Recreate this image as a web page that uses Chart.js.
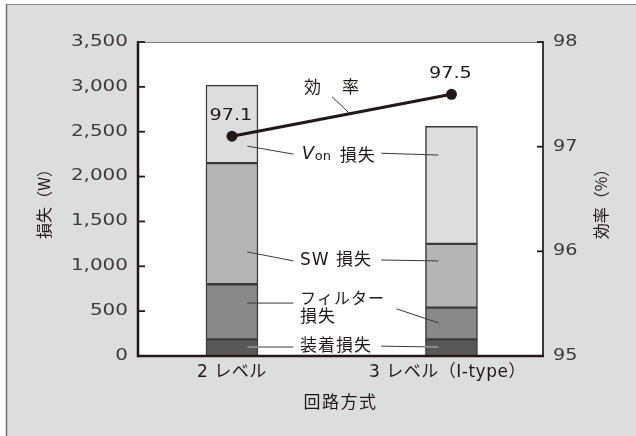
<!DOCTYPE html>
<html>
<head>
<meta charset="utf-8">
<script src="https://cdn.jsdelivr.net/npm/chart.js@4/dist/chart.umd.min.js"></script>
<style>
  html, body { margin: 0; padding: 0; background: #ffffff; }
  #wrap { width: 636px; height: 436px; }
</style>
</head>
<body>
<div id="wrap"><canvas id="c" width="636" height="436"></canvas></div>
<script>
// 回路方式ごとの損失内訳（W）と効率（%）
const categories = ['2 レベル', '3 レベル（I-type）'];
const mountLoss  = [185, 185];    // 装着損失
const filterLoss = [615, 355];    // フィルター損失
const swLoss     = [1350, 710];   // SW 損失
const vonLoss    = [870, 1310];   // Von 損失
const efficiency = [97.1, 97.5];  // 効率

const lossTicks = [0, 500, 1000, 1500, 2000, 2500, 3000, 3500];
const effTicks  = [95, 96, 97, 98];

const INK = '#231815';
const BG = '#dcdddd';
const JP = '"Noto Sans CJK JP", sans-serif';
const NUM = '"DejaVu Sans", "Noto Sans CJK JP", sans-serif';

// 注記（カテゴリ位置 x・損失軸 y で指定）
const notes = [
  { text: '効　率', x: 1.458, y: 3004, align: 'center', font: '17px ' + JP, spacing: 2 },
  { text: 'SW 損失', x: 1.31, y: 1059, align: 'left', font: '17px ' + NUM, spacing: 1 },
  { text: 'フィルター', x: 1.31, y: 646, align: 'left', font: '16px ' + JP, spacing: 1 },
  { text: '損失', x: 1.31, y: 446, align: 'left', font: '17px ' + JP, spacing: 1 },
  { text: '装着損失', x: 1.31, y: 123, align: 'left', font: '17px ' + JP, spacing: 1 }
];
const leaders = [
  [1.07, 2340, 1.28, 2250], [1.68, 2260, 1.94, 2240],   // Von
  [1.07, 1160, 1.28, 1060], [1.68, 1070, 1.94, 1060],   // SW
  [1.07, 590, 1.28, 590],   [1.75, 525, 1.94, 370],     // フィルター
  [1.07, 100, 1.28, 100],   [1.68, 110, 1.94, 100],     // 装着
  [1.456, 2890, 1.533, 2710]                            // 効率
];

function drawText(ctx, s, x, y, o) {
  ctx.save();
  ctx.font = o.font;
  ctx.fillStyle = o.color || INK;
  ctx.textBaseline = 'middle';
  ctx.textAlign = 'left';
  ctx.letterSpacing = (o.spacing || 0) + 'px';
  const sx = o.sx || 1;
  const w = ctx.measureText(s).width * sx;
  const align = o.align || 'center';
  const x0 = align === 'left' ? x : align === 'right' ? x - w : x - w / 2;
  ctx.translate(x0, y);
  ctx.scale(sx, 1);
  ctx.fillText(s, 0, 0);
  ctx.restore();
}

function drawVertical(ctx, s, x, y, font) {
  ctx.save();
  ctx.translate(x, y);
  ctx.rotate(-Math.PI / 2);
  ctx.font = font;
  ctx.fillStyle = INK;
  ctx.textAlign = 'center';
  ctx.textBaseline = 'middle';
  ctx.fillText(s, 0, 0);
  ctx.restore();
}

function line(ctx, x1, y1, x2, y2, color, w) {
  ctx.save();
  ctx.strokeStyle = color;
  ctx.lineWidth = w;
  ctx.beginPath();
  ctx.moveTo(x1, y1);
  ctx.lineTo(x2, y2);
  ctx.stroke();
  ctx.restore();
}

const framePlugin = {
  id: 'frame',
  beforeDraw(chart) {
    const { ctx, chartArea: a, width, height } = chart;
    ctx.save();
    ctx.fillStyle = '#ffffff';
    ctx.fillRect(0, 0, width, height);
    ctx.fillStyle = BG;
    ctx.fillRect(6, 4, width - 6, height - 4);
    line(ctx, 6, 4.5, width, 4.5, '#8a8a8a', 1.2);
    line(ctx, 6.5, 4, 6.5, height, '#6e6e6e', 1.5);
    ctx.fillStyle = '#ffffff';
    ctx.fillRect(a.left, a.top, a.right - a.left, a.bottom - a.top);
    ctx.restore();
  },
  afterDatasetsDraw(chart) {
    const { ctx, chartArea: a, scales } = chart;
    const xs = scales.x, ys = scales.y, y2 = scales.y2;

    // 引出線
    leaders.forEach(([x1, v1, x2, v2]) => {
      line(ctx, xs.getPixelForValue(x1), ys.getPixelForValue(v1),
                xs.getPixelForValue(x2), ys.getPixelForValue(v2), '#3e3a39', 1);
    });
    // 装着損失の帯の中は明るい線
    [[1.07, 100, 1.12, 100], [1.88, 102, 1.94, 100]].forEach(([x1, v1, x2, v2]) => {
      line(ctx, xs.getPixelForValue(x1), ys.getPixelForValue(v1),
                xs.getPixelForValue(x2) , ys.getPixelForValue(v2), '#c9caca', 1);
    });

    // 軸線
    line(ctx, a.left, a.top + 0.5, a.right, a.top + 0.5, '#7d7d7d', 1.2);
    line(ctx, a.right, a.top - 1, a.right, a.bottom, INK, 1.7);
    line(ctx, a.left, a.top - 1, a.left, a.bottom + 1.2, INK, 2.5);
    line(ctx, a.left - 1, a.bottom, a.right + 1, a.bottom, INK, 2.5);

    // 目盛（内向き）と目盛ラベル
    lossTicks.forEach(v => {
      const py = ys.getPixelForValue(v);
      line(ctx, a.left, py, a.left + 7, py, INK, 1.8);
      drawText(ctx, v.toLocaleString('en-US'), a.left - 10, py,
               { font: '15px ' + NUM, align: 'right', sx: 1.33, color: '#3e3a39' });
    });
    effTicks.forEach(v => {
      const py = y2.getPixelForValue(v);
      line(ctx, a.right - 6, py, a.right, py, INK, 1.8);
      drawText(ctx, String(v), a.right + 10, py,
               { font: '16px ' + NUM, align: 'left', sx: 1.2, color: '#3e3a39' });
    });

    // カテゴリラベル
    categories.forEach((c, i) => {
      const px = xs.getPixelForValue(i + 1) - (i === 1 ? 4 : 0);
      drawText(ctx, c, px, a.bottom + 17, { font: '17px ' + NUM, spacing: 0.5 });
    });

    // 軸タイトル
    drawText(ctx, '回路方式', (a.left + a.right) / 2, a.bottom + 46,
             { font: '17px ' + JP, spacing: 1.5 });
    drawVertical(ctx, '損失（W）', 44, 200, '16px ' + JP);
    drawVertical(ctx, '効率（%）', 601, 200, '16px ' + JP);

    // 注記
    notes.forEach(n => {
      drawText(ctx, n.text, xs.getPixelForValue(n.x), ys.getPixelForValue(n.y), n);
    });
    // Von 損失（V はイタリック、on は下付き）
    const vx = xs.getPixelForValue(1.318), vy = ys.getPixelForValue(2250);
    drawText(ctx, 'V', vx, vy, { font: 'italic 18px ' + NUM, align: 'left' });
    drawText(ctx, 'on', vx + 13, vy + 2, { font: '13px ' + NUM, align: 'left' });
    drawText(ctx, '損失', vx + 38, vy, { font: '17px ' + JP, align: 'left', spacing: 1 });

    // 効率の値ラベル
    const meta = chart.getDatasetMeta(4);
    meta.data.forEach((pt, i) => {
      drawText(ctx, efficiency[i].toFixed(1), pt.x - 1, pt.y - 20,
               { font: '16px ' + NUM, sx: 1.2 });
    });
  }
};

const xy = arr => arr.map((v, i) => ({ x: i + 1, y: v }));
const barStyle = { borderColor: '#3e3a39', borderWidth: 1.5, borderSkipped: false,
                   barThickness: 52, yAxisID: 'y', order: 1 };

new Chart(document.getElementById('c'), {
  type: 'bar',
  data: {
    datasets: [
      { label: '装着損失', data: xy(mountLoss), backgroundColor: '#595757', ...barStyle },
      { label: 'フィルター損失', data: xy(filterLoss), backgroundColor: '#898989', ...barStyle },
      { label: 'SW 損失', data: xy(swLoss), backgroundColor: '#b5b5b6', ...barStyle },
      { label: 'Von 損失', data: xy(vonLoss), backgroundColor: '#dcdddd', ...barStyle },
      { type: 'line', label: '効率', data: xy(efficiency), yAxisID: 'y2', order: 0,
        borderColor: INK, borderWidth: 3, pointRadius: 5.5, pointHoverRadius: 5.5,
        pointBackgroundColor: INK, pointBorderWidth: 0, tension: 0 }
    ]
  },
  options: {
    responsive: false,
    animation: false,
    events: [],
    layout: { padding: { left: 138, top: 42, right: 93, bottom: 80 } },
    plugins: { legend: { display: false }, tooltip: { enabled: false } },
    scales: {
      x: { type: 'linear', display: false, stacked: true, offset: false, min: 0.572, max: 2.417 },
      y: { display: false, stacked: true, min: 0, max: 3500 },
      y2: { display: false, position: 'right', min: 95, max: 98 }
    }
  },
  plugins: [framePlugin]
});
</script>
</body>
</html>
